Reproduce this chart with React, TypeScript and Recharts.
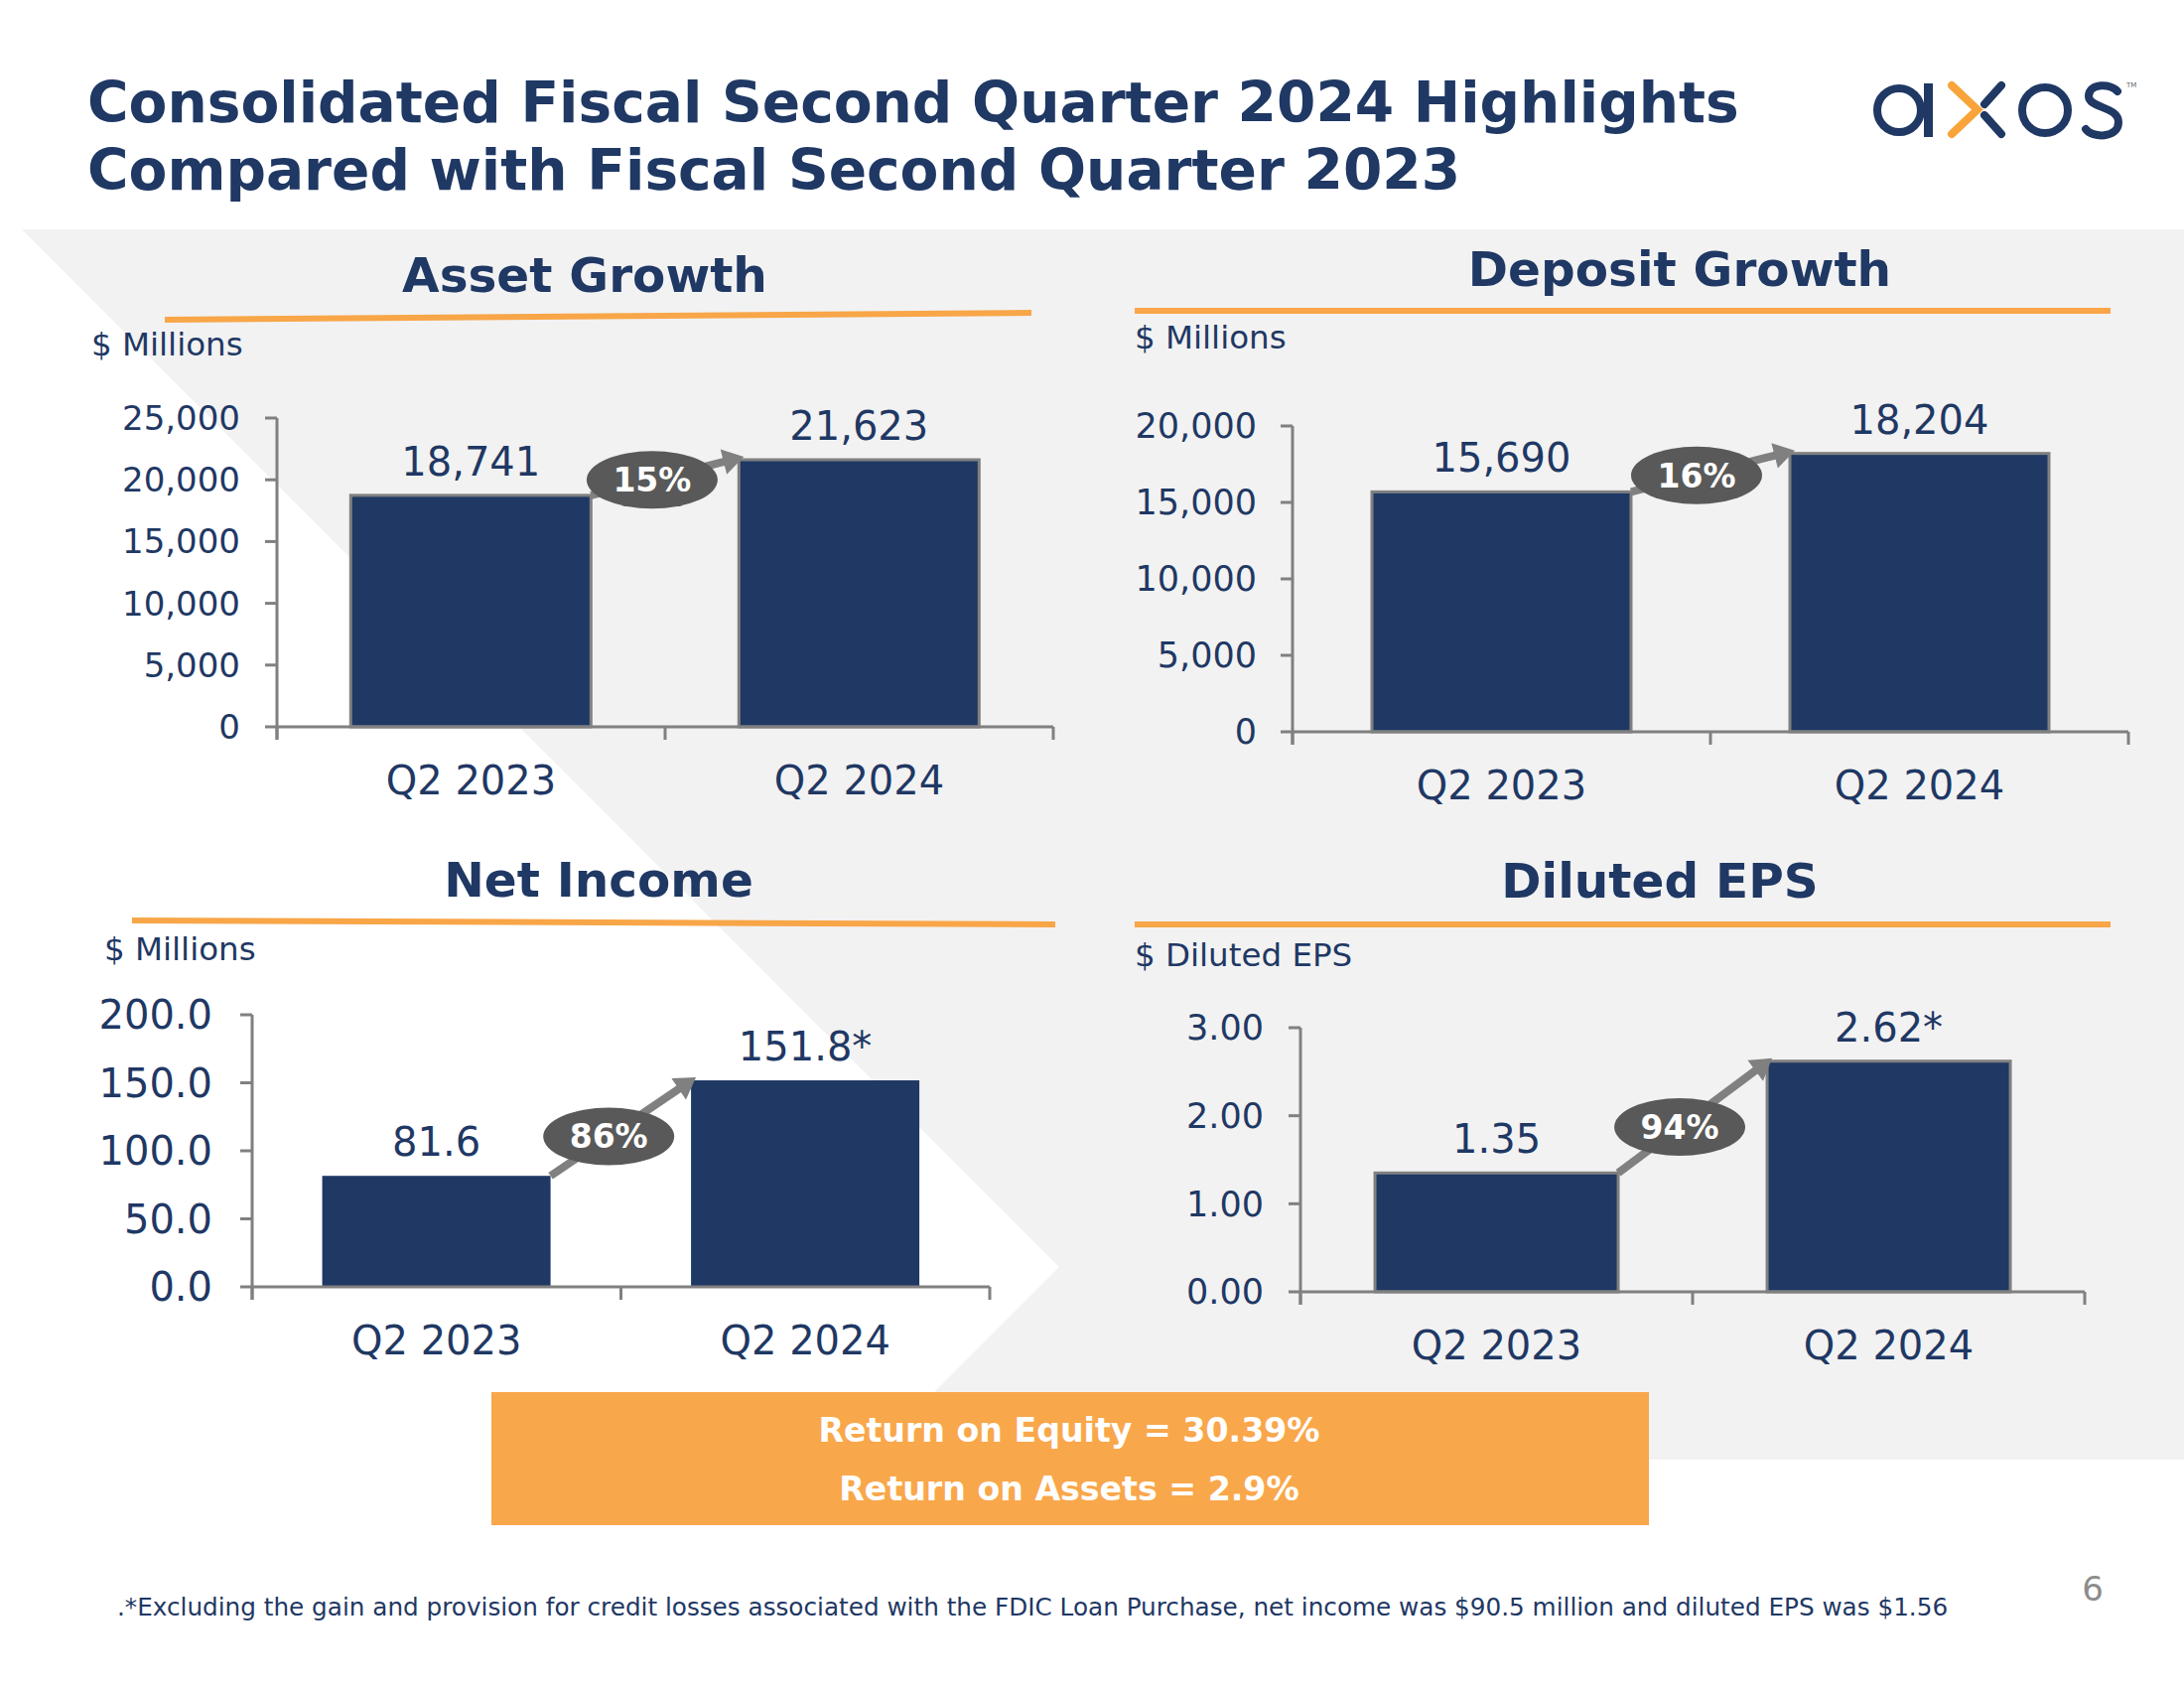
import React from 'react';
import { BarChart, Bar, XAxis, YAxis, LabelList } from 'recharts';

// values
const quarters = ['Q2 2023', 'Q2 2024'];

const assetValues = [18741, 21623];
const assetLabels = ['18,741', '21,623'];
const assetTicks = [0, 5000, 10000, 15000, 20000, 25000];
const assetGrowth = '15%';

const depositValues = [15690, 18204];
const depositLabels = ['15,690', '18,204'];
const depositTicks = [0, 5000, 10000, 15000, 20000];
const depositGrowth = '16%';

const incomeValues = [81.6, 151.8];
const incomeLabels = ['81.6', '151.8*'];
const incomeTicks = [0, 50, 100, 150, 200];
const incomeGrowth = '86%';

const epsValues = [1.35, 2.62];
const epsLabels = ['1.35', '2.62*'];
const epsTicks = [0, 1, 2, 3];
const epsGrowth = '94%';

const FONT = "'DejaVu Sans', Verdana, sans-serif";
const NAVY = '#1f3864';
const AXIS = '#808080';
const ORANGE = '#f8a648';
const BADGE = '#595959';
const CAT_MARGIN = 39;

type Box = { left: number; top: number; width: number; height: number };

type PanelProps = {
  values: number[];
  labels: string[];
  ticks: number[];
  fmt: (v: number) => string;
  growth: string;
  outlined: boolean;
  box: Box;
  yWidth: number;
  mTop: number;
  mRight: number;
  xHeight: number;
  tickFont: number;
  tickGap: number;
};

const noLabel = () => <g />;

const Panel = (p: PanelProps) => {
  const data = quarters.map((q, i) => ({ q, v: p.values[i], label: p.labels[i] }));
  const prev = { x: 0, y: 0 };
  const band = (p.box.width - p.yWidth - p.mRight) / quarters.length;

  // category label plus the boundary tick marks around its band
  const catTick = (t: any) => {
    const top = t.y - CAT_MARGIN - 1;
    const last = t.payload.index === quarters.length - 1;
    return (
      <g>
        <line x1={t.x - band / 2} x2={t.x - band / 2} y1={top} y2={top + 13} stroke={AXIS} strokeWidth={3} />
        {last && (
          <line x1={t.x + band / 2} x2={t.x + band / 2} y1={top} y2={top + 13} stroke={AXIS} strokeWidth={3} />
        )}
        <text x={t.x} y={t.y} dy="0.71em" textAnchor="middle" fill={NAVY} fontSize={40} fontFamily={FONT}>
          {t.payload.value}
        </text>
      </g>
    );
  };

  // bar + growth arrow (arrow drawn from first bar's corner to the second bar)
  const shape = (s: any) => {
    const { x, y, width, height } = s;
    const idx = s.index ?? quarters.indexOf(s.payload?.q);
    const rect = (
      <rect x={x} y={y} width={width} height={height} fill={NAVY}
        stroke={p.outlined ? AXIS : 'none'} strokeWidth={3} />
    );
    if (idx === 0) {
      prev.x = x + width;
      prev.y = y;
      return rect;
    }
    const sx = prev.x, sy = prev.y;
    const tx = x + 5, ty = y - 3;
    const len = Math.hypot(tx - sx, ty - sy);
    const ux = (tx - sx) / len, uy = (ty - sy) / len;
    const nx = -uy, ny = ux;
    const head = 21, half = 13;
    const bx = tx - ux * head, by = ty - uy * head;
    const cx = sx + (tx - sx) * 0.4, cy = sy + (ty - sy) * 0.4;
    return (
      <g>
        {rect}
        <line x1={sx} y1={sy} x2={bx + ux * 2} y2={by + uy * 2} stroke={AXIS} strokeWidth={8} />
        <polygon points={`${tx},${ty} ${bx + nx * half},${by + ny * half} ${bx - nx * half},${by - ny * half}`} fill={AXIS} />
        <ellipse cx={cx} cy={cy} rx={66} ry={29} fill={BADGE} />
        <text x={cx} y={cy} dy="0.36em" textAnchor="middle" fill="#fff" fontSize={33}
          fontWeight="bold" fontFamily={FONT}>{p.growth}</text>
      </g>
    );
  };

  return (
    <div style={{ position: 'absolute', left: p.box.left, top: p.box.top }}>
      <BarChart width={p.box.width} height={p.box.height} data={data}
        margin={{ top: p.mTop, right: p.mRight, bottom: 0, left: 0 }} barCategoryGap="19%">
        <XAxis xAxisId="cat" dataKey="q" height={p.xHeight - 1} interval={0} axisLine={false}
          tickLine={false} tickSize={0} tickMargin={CAT_MARGIN} tick={catTick} />
        {/* base line of the category axis */}
        <XAxis xAxisId="aEdge" type="number" domain={[0, quarters.length]} allowDataOverflow
          ticks={[0, quarters.length]} interval={0} height={1} tick={noLabel} tickSize={13}
          axisLine={{ stroke: AXIS, strokeWidth: 3 }} tickLine={{ stroke: AXIS, strokeWidth: 3 }} />
        <YAxis domain={[p.ticks[0], p.ticks[p.ticks.length - 1]]} ticks={p.ticks} interval={0}
          width={p.yWidth} tickFormatter={p.fmt} tickSize={12} tickMargin={p.tickGap - 12}
          axisLine={{ stroke: AXIS, strokeWidth: 3 }} tickLine={{ stroke: AXIS, strokeWidth: 3 }}
          tick={{ fill: NAVY, fontSize: p.tickFont, fontFamily: FONT }} />
        <Bar xAxisId="cat" dataKey="v" fill={NAVY} shape={shape} isAnimationActive={false}>
          <LabelList dataKey="label" position="top" offset={20} fill={NAVY} fontSize={40}
            fontFamily={FONT} />
        </Bar>
      </BarChart>
    </div>
  );
};

const thousands = (v: number) => v.toLocaleString('en-US');

const App = () => {
  return (
    <div style={{ position: 'absolute', left: 0, top: 0, width: 2200, height: 1700, background: '#fff', overflow: 'hidden', fontFamily: FONT }}>
      <svg width={2200} height={1700} style={{ position: 'absolute', left: 0, top: 0 }}>
        <polygon points="22,231 2200,231 2200,1470 873,1470 1067,1276" fill="#f2f2f2" />

        {/* slide title */}
        <text x={88} y={123} fontSize={56.6} fontWeight="bold" fill={NAVY} fontFamily={FONT}>
          Consolidated Fiscal Second Quarter 2024 Highlights
        </text>
        <text x={88} y={191} fontSize={56.6} fontWeight="bold" fill={NAVY} fontFamily={FONT}>
          Compared with Fiscal Second Quarter 2023
        </text>

        {/* axos logo */}
        <g fill="none" strokeWidth={8}>
          <circle cx={1913} cy={111} r={22} stroke={NAVY} />
          <line x1={1942.5} y1={84} x2={1942.5} y2={138} stroke={NAVY} strokeWidth={9} />
          <polyline points="1966,86 1992,110.5 1966,135" stroke="#f9a43b" strokeLinecap="round" />
          <line x1={2016} y1={86} x2={1999} y2={105} stroke={NAVY} strokeLinecap="round" />
          <line x1={1999} y1={116} x2={2016} y2={135} stroke={NAVY} strokeLinecap="round" />
          <circle cx={2060} cy={111} r={23} stroke={NAVY} />
          <path d="M2133 92 C2127 84 2104 83 2104 97 C2104 109 2134 107 2134 123 C2134 140 2107 139 2101 130"
            stroke={NAVY} strokeLinecap="round" />
        </g>
        <text x={2142} y={88} fontSize={7} fill="#666" fontFamily={FONT}>TM</text>

        {/* panel titles + orange rules */}
        <text x={589} y={294} fontSize={48.5} fontWeight="bold" fill={NAVY} textAnchor="middle" fontFamily={FONT}>Asset Growth</text>
        <line x1={166} y1={322} x2={1039} y2={315} stroke={ORANGE} strokeWidth={6} />
        <text x={1692} y={288} fontSize={48.5} fontWeight="bold" fill={NAVY} textAnchor="middle" fontFamily={FONT}>Deposit Growth</text>
        <line x1={1143} y1={313} x2={2126} y2={313} stroke={ORANGE} strokeWidth={6} />
        <text x={603} y={903} fontSize={48.5} fontWeight="bold" fill={NAVY} textAnchor="middle" fontFamily={FONT}>Net Income</text>
        <line x1={133} y1={927} x2={1063} y2={931} stroke={ORANGE} strokeWidth={6} />
        <text x={1672} y={904} fontSize={48.5} fontWeight="bold" fill={NAVY} textAnchor="middle" fontFamily={FONT}>Diluted EPS</text>
        <line x1={1143} y1={931} x2={2126} y2={931} stroke={ORANGE} strokeWidth={6} />

        <text x={92} y={358} fontSize={32.5} fill={NAVY} fontFamily={FONT}>$ Millions</text>
        <text x={1143} y={351} fontSize={32.5} fill={NAVY} fontFamily={FONT}>$ Millions</text>
        <text x={105} y={967} fontSize={32.5} fill={NAVY} fontFamily={FONT}>$ Millions</text>
        <text x={1143} y={973} fontSize={32.5} fill={NAVY} fontFamily={FONT}>$ Diluted EPS</text>

        {/* returns box */}
        <rect x={495} y={1402} width={1166} height={134} fill="#f9a74b" />
        <text x={1077} y={1452} fontSize={33.2} fontWeight="bold" fill="#fff" textAnchor="middle" fontFamily={FONT}>Return on Equity = 30.39%</text>
        <text x={1077} y={1511} fontSize={33.2} fontWeight="bold" fill="#fff" textAnchor="middle" fontFamily={FONT}>Return on Assets = 2.9%</text>

        <text x={118} y={1627} fontSize={24.7} fill={NAVY} fontFamily={FONT}>
          .*Excluding the gain and provision for credit losses associated with the FDIC Loan Purchase, net income was $90.5 million and diluted EPS was $1.56
        </text>
        <text x={2108} y={1612} fontSize={34} fill="#8c8c8c" textAnchor="middle" fontFamily={FONT}>6</text>
      </svg>

      <Panel values={assetValues} labels={assetLabels} ticks={assetTicks} fmt={thousands}
        growth={assetGrowth} outlined box={{ left: 60, top: 380, width: 1040, height: 460 }}
        yWidth={219} mTop={41} mRight={39} xHeight={108} tickFont={34} tickGap={37} />
      <Panel values={depositValues} labels={depositLabels} ticks={depositTicks} fmt={thousands}
        growth={depositGrowth} outlined box={{ left: 1120, top: 380, width: 1060, height: 460 }}
        yWidth={182} mTop={49} mRight={36} xHeight={103} tickFont={35} tickGap={36} />
      <Panel values={incomeValues} labels={incomeLabels} ticks={incomeTicks} fmt={(v) => v.toFixed(1)}
        growth={incomeGrowth} outlined={false} box={{ left: 40, top: 990, width: 1000, height: 420 }}
        yWidth={214} mTop={32} mRight={43} xHeight={114} tickFont={40} tickGap={40} />
      <Panel values={epsValues} labels={epsLabels} ticks={epsTicks} fmt={(v) => v.toFixed(2)}
        growth={epsGrowth} outlined box={{ left: 1120, top: 990, width: 1060, height: 420 }}
        yWidth={190} mTop={45} mRight={80} xHeight={109} tickFont={35} tickGap={37} />
    </div>
  );
};

export default App;
